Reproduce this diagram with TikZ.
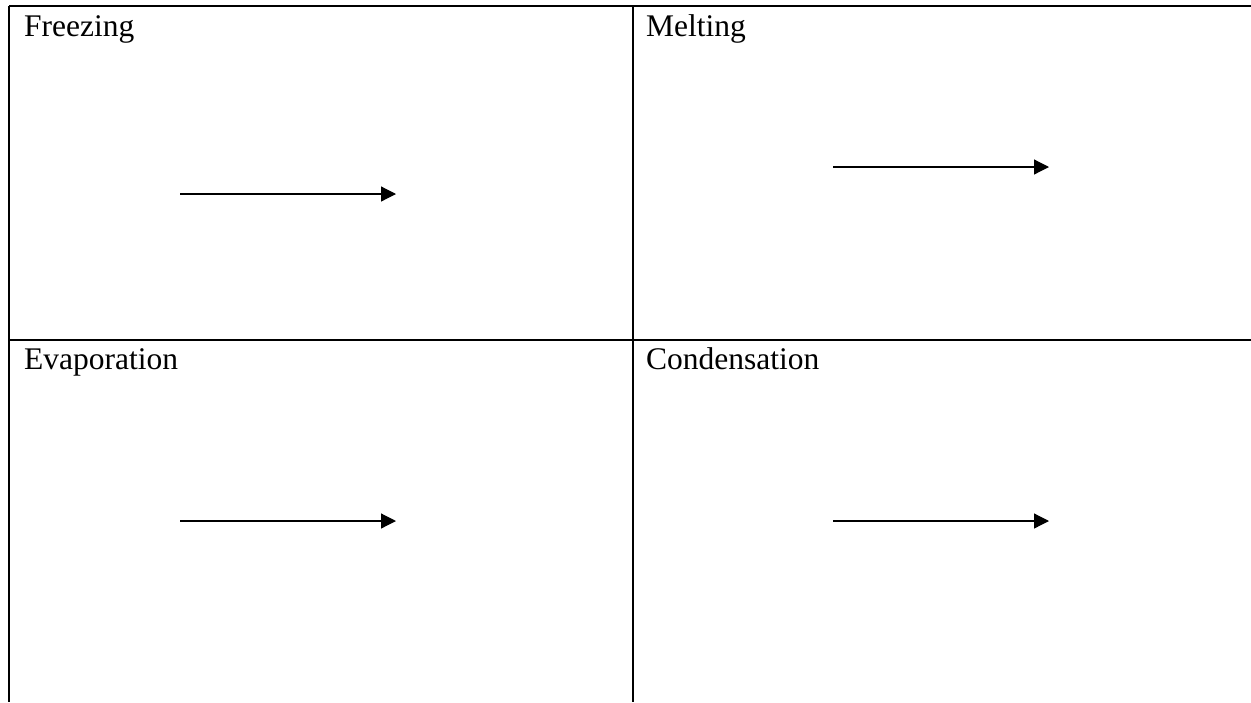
\documentclass[tikz,border=0pt]{standalone}
\usepackage{fontspec}
\setmainfont{Liberation Serif}
\usetikzlibrary{arrows.meta}
\begin{document}
\begin{tikzpicture}[x=1pt,y=-1pt,
  grid/.style={line width=2.4pt,black},
  lbl/.style={anchor=base west,inner sep=0pt,font=\fontsize{31.5}{36}\selectfont},
  flow/.style={line width=1.2pt,-{Triangle[length=15pt,width=15pt]}}]
\useasboundingbox (0,0) rectangle (1251,702);
\coordinate (tl) at (9,6);
\coordinate (tr) at (1251,6);
\coordinate (ml) at (9,340);
\coordinate (mr) at (1251,340);
\coordinate (bl) at (9,702);
\coordinate (tm) at (633,6);
\coordinate (bm) at (633,702);
\draw[grid] (tl) -- (tr);
\draw[grid] (ml) -- (mr);
\draw[grid] (tl) -- (bl);
\draw[grid] (tm) -- (bm);
\node[lbl] (f) at (24,36) {Freezing};
\node[lbl] (m) at (646,36) {Melting};
\node[lbl] (e) at (24,369) {Evaporation};
\node[lbl] (c) at (646,369) {Condensation};
\coordinate (a1s) at (180,194); \coordinate (a1e) at (396,194);
\coordinate (a2s) at (833,167); \coordinate (a2e) at (1049,167);
\coordinate (a3s) at (180,521); \coordinate (a3e) at (396,521);
\coordinate (a4s) at (833,521); \coordinate (a4e) at (1049,521);
\draw[flow] (a1s) -- (a1e);
\draw[flow] (a2s) -- (a2e);
\draw[flow] (a3s) -- (a3e);
\draw[flow] (a4s) -- (a4e);
\end{tikzpicture}
\end{document}
